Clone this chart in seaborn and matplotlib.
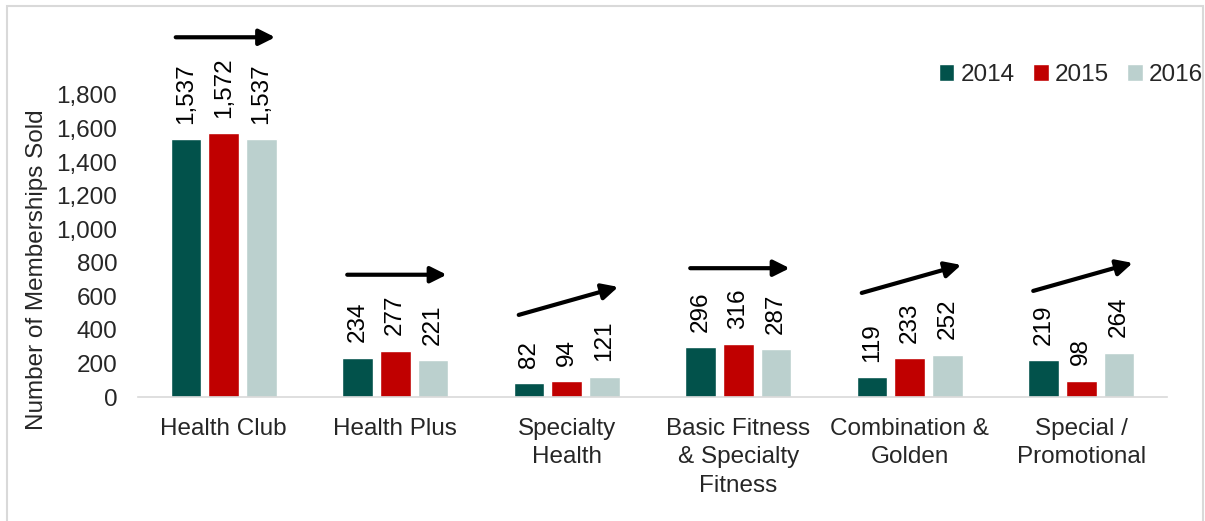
import pandas as pd
import matplotlib
matplotlib.use("Agg")
import matplotlib.pyplot as plt
from matplotlib.patches import Patch, Rectangle
import seaborn as sns

# data
categories = ["Health Club", "Health Plus", "Specialty\nHealth",
              "Basic Fitness\n& Specialty\nFitness", "Combination &\nGolden",
              "Special /\nPromotional"]
years = ["2014", "2015", "2016"]
sold_2014 = [1537, 234, 82, 296, 119, 219]
sold_2015 = [1572, 277, 94, 316, 233, 98]
sold_2016 = [1537, 221, 121, 287, 252, 264]
trend = ["flat", "flat", "up", "flat", "up", "up"]

colors = ["#02524B", "#C00000", "#BBD0CE"]

df = pd.DataFrame({
    "category": categories * 3,
    "year": [y for y in years for _ in categories],
    "sold": sold_2014 + sold_2015 + sold_2016,
})

sns.set_style("white")
plt.rcParams["font.family"] = ["Liberation Sans", "DejaVu Sans"]
fs = 17.5

fig = plt.figure(figsize=(12.05, 5.21), dpi=100)
ax = fig.add_axes([138 / 1205, 1 - 397 / 521, (1167 - 138) / 1205, (397 - 11) / 521])

sns.barplot(data=df, x="category", y="sold", hue="year", order=categories,
            hue_order=years, palette=colors, saturation=1, width=0.66, gap=0.18,
            ax=ax, legend=False)

ax.set_ylim(0, 2300)
ax.set_yticks(range(0, 1801, 200))
ax.set_yticklabels([f"{v:,}" for v in range(0, 1801, 200)], fontsize=fs)
ax.tick_params(axis="y", length=0, pad=15)
ax.tick_params(axis="x", length=0, pad=15, labelsize=fs)
for lbl in ax.get_xticklabels():
    lbl.set_linespacing(1.38)
ax.set_xlabel("")
ax.set_ylabel("Number of Memberships Sold", fontsize=fs)
ax.yaxis.set_label_coords(-0.087, 0.33)
sns.despine(ax=ax, left=True)
ax.spines["bottom"].set_color("#D9D9D9")
ax.spines["bottom"].set_linewidth(1.2)

labels = []
for cont in ax.containers:
    labels.append(ax.bar_label(cont, fmt="{:,.0f}", rotation=90, padding=11,
                               fontsize=fs, color="#000000"))

# trend arrows above each group, placed above the tallest label
fig.canvas.draw()
renderer = fig.canvas.get_renderer()
inv = ax.transData.inverted()
for i, t in enumerate(trend):
    top_px = max(labels[k][i].get_window_extent(renderer).y1 for k in range(3))
    mid = top_px + 20
    if t == "up":
        y0_px, y1_px = mid - 14, mid + 14
    else:
        y0_px = y1_px = mid
    y0 = inv.transform((0, y0_px))[1]
    y1 = inv.transform((0, y1_px))[1]
    ax.annotate("", xy=(i + 0.3, y1), xytext=(i - 0.28, y0),
                arrowprops=dict(arrowstyle="-|>", lw=3, color="black",
                                mutation_scale=24, shrinkA=0, shrinkB=0),
                annotation_clip=False)

handles = [Patch(facecolor=c, label=y) for c, y in zip(colors, years)]
fig.legend(handles=handles, loc="center right", bbox_to_anchor=(1203 / 1205, 1 - 75 / 521),
           ncol=3, frameon=False, fontsize=fs, handlelength=0.65, handleheight=0.65,
           handletextpad=0.25, columnspacing=0.75, borderpad=0, borderaxespad=0)

fig.patches.append(Rectangle((7 / 1205, -0.05), 1196 / 1205, 1 - 6 / 521 + 0.05,
                             transform=fig.transFigure, fill=False,
                             edgecolor="#D9D9D9", lw=1.5))

fig.savefig("out.png", dpi=100)
